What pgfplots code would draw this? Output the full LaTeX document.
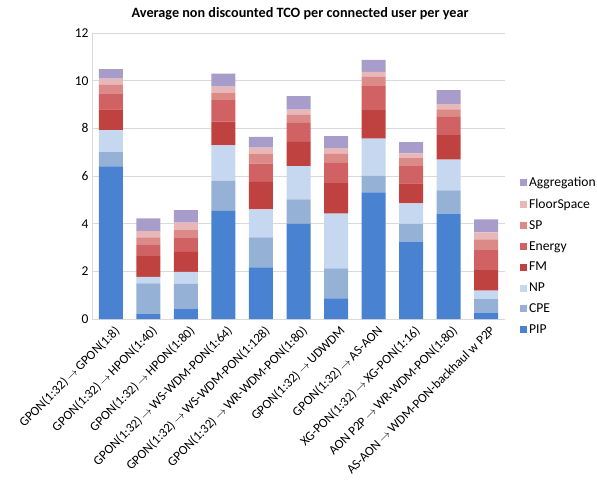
\documentclass[border=0pt]{standalone}
\usepackage{fontspec}
\setmainfont{Carlito}
\usepackage{pgfplots}
\usepackage{pgfplotstable}
\pgfplotsset{compat=1.18}
\definecolor{cPIP}{RGB}{74,130,210}
\definecolor{cCPE}{RGB}{149,177,213}
\definecolor{cNP}{RGB}{198,216,240}
\definecolor{cFM}{RGB}{192,66,64}
\definecolor{cEN}{RGB}{208,98,100}
\definecolor{cSP}{RGB}{220,138,136}
\definecolor{cFS}{RGB}{232,184,184}
\definecolor{cAG}{RGB}{168,156,203}
\definecolor{gridc}{RGB}{217,217,217}
\newcommand{\ar}{\,$\rightarrow$\,}
\pgfplotstableread{
x PIP CPE NP FM Energy SP FloorSpace Aggregation
0 6.40 0.60 0.93 0.87 0.67 0.35 0.27 0.39
1 0.21 1.28 0.28 0.87 0.46 0.33 0.26 0.53
2 0.41 1.06 0.51 0.84 0.60 0.31 0.31 0.53
3 4.54 1.26 1.48 1.00 0.90 0.32 0.25 0.55
4 2.17 1.25 1.18 1.15 0.77 0.40 0.27 0.45
5 4.00 1.02 1.39 1.02 0.80 0.33 0.22 0.57
6 0.87 1.25 2.30 1.28 0.85 0.38 0.24 0.50
7 5.31 0.70 1.56 1.19 1.01 0.39 0.21 0.50
8 3.25 0.74 0.86 0.84 0.76 0.30 0.20 0.47
9 4.40 1.00 1.29 1.02 0.77 0.32 0.22 0.58
10 0.27 0.56 0.36 0.86 0.84 0.45 0.30 0.54
}\tco
\begin{document}
\begin{tikzpicture}
\begin{axis}[
  scale only axis, width=413pt, height=286pt,
  ybar stacked, bar width=24pt,
  xmin=-0.5, xmax=10.5, ymin=0, ymax=12,
  ytick={0,2,...,12},
  xtick=data,
  xticklabels={GPON(1:32)\ar GPON(1:8), GPON(1:32)\ar HPON(1:40), GPON(1:32)\ar HPON(1:80), GPON(1:32)\ar WS-WDM-PON(1:64), GPON(1:32)\ar WS-WDM-PON(1:128), GPON(1:32)\ar WR-WDM-PON(1:80), GPON(1:32)\ar UDWDM, GPON(1:32)\ar AS-AON, XG-PON(1:32)\ar XG-PON(1:16), AON P2P\ar WR-WDM-PON(1:80), AS-AON\ar WDM-PON-backhaul w P2P},
  xticklabel style={rotate=45, anchor=north east, font=\fontsize{13}{15}\selectfont, inner sep=1pt, xshift=-1pt, yshift=-5pt},
  yticklabel style={font=\fontsize{13.5}{15}\selectfont},
  /pgf/number format/assume math mode=true,
  major tick length=0pt,
  ymajorgrids, grid style={gridc, line width=0.8pt},
  axis x line*=bottom, axis y line*=left,
  axis line style={gridc, line width=0.8pt},
  every outer x axis line/.append style={-}, every outer y axis line/.append style={-},
  title={Average non discounted TCO per connected user per year},
  title style={font=\bfseries\fontsize{14.2}{16}\selectfont, at={(axis description cs:0.504,1.048)}, anchor=center},
  area legend,
  reverse legend,
  legend image code/.code={\path[#1,draw=none] (0pt,-3.5pt) rectangle (7pt,3.5pt);},
  legend style={at={(axis description cs:1.036,0.503)}, anchor=north west, draw=none, fill=none,
    font=\fontsize{13.6}{16}\selectfont, row sep=6.6pt, inner sep=0pt},
  legend cell align=left,
]
\addplot[fill=cPIP, draw=none] table[x=x, y=PIP] {\tco};
\addplot[fill=cCPE, draw=none] table[x=x, y=CPE] {\tco};
\addplot[fill=cNP, draw=none] table[x=x, y=NP] {\tco};
\addplot[fill=cFM, draw=none] table[x=x, y=FM] {\tco};
\addplot[fill=cEN, draw=none] table[x=x, y=Energy] {\tco};
\addplot[fill=cSP, draw=none] table[x=x, y=SP] {\tco};
\addplot[fill=cFS, draw=none] table[x=x, y=FloorSpace] {\tco};
\addplot[fill=cAG, draw=none] table[x=x, y=Aggregation] {\tco};
\legend{PIP, CPE, NP, FM, Energy, SP, FloorSpace, Aggregation}
\end{axis}
\pgfresetboundingbox
\path[use as bounding box] (-92pt,-164pt) rectangle (505pt,319pt);
\end{tikzpicture}
\end{document}
